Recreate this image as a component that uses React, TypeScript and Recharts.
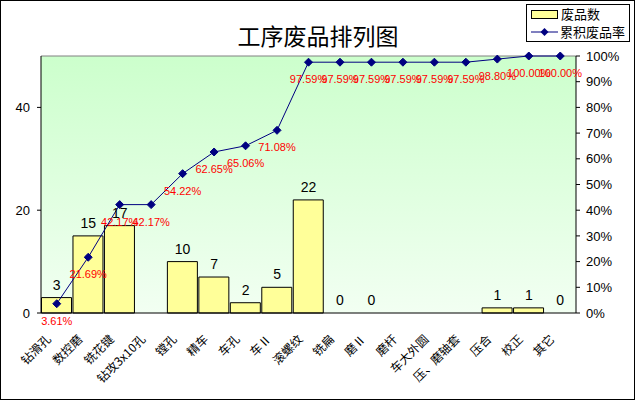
import { ComposedChart, Bar, Line, XAxis, YAxis, CartesianGrid, LabelList, Legend, ReferenceLine } from 'recharts';

const categories = ['钻滑孔', '数控磨', '铣花键', '钻攻3x10孔', '镗孔', '精车', '车孔', '车Ⅱ', '滚螺纹', '铣扁', '磨Ⅱ', '磨杆', '车大外圆', '压、磨轴套', '压合', '校正', '其它'];
const rejects = [3, 15, 17, null, 10, 7, 2, 5, 22, 0, 0, null, null, null, 1, 1, 0];
const cumulativeRate = [3.61, 21.69, 42.17, 42.17, 54.22, 62.65, 65.06, 71.08, 97.59, 97.59, 97.59, 97.59, 97.59, 97.59, 98.8, 100, 100];
const countTicks = [0, 20, 40];
const rateTicks = [0, 10, 20, 30, 40, 50, 60, 70, 80, 90, 100];

const data = categories.map((name, i) => ({ name, count: rejects[i], rate: cumulativeRate[i] }));

const cjk = '"Noto Sans CJK SC", sans-serif';
const latin = '"Liberation Sans", Arial, sans-serif';

function CategoryTick(props: any) {
  const { x, y, payload } = props;
  const ax = x - 5;
  const ay = y + 27;
  return (
    <text x={ax} y={ay} transform={`rotate(-45 ${ax} ${ay})`} textAnchor="end" fontSize={12} fontFamily={cjk} fill="#000">
      {payload.value}
    </text>
  );
}

function Diamond(props: any) {
  const { cx, cy } = props;
  if (cx == null || cy == null) return null;
  return <polygon points={`${cx},${cy - 4} ${cx + 4},${cy} ${cx},${cy + 4} ${cx - 4},${cy}`} fill="#000080" stroke="#000080" />;
}

function RateLabel(props: any) {
  const { x, y, value } = props;
  if (value == null) return null;
  return (
    <text x={x} y={y + 21} textAnchor="middle" fontSize={11} fontFamily={latin} fill="#ff0000">
      {Number(value).toFixed(2)}%
    </text>
  );
}

// count labels sit on an invisible line so that zero values still get a "0"
function CountLabel(props: any) {
  const { x, y, value } = props;
  if (value == null || y == null) return null;
  return (
    <text x={x} y={y - 8} textAnchor="middle" fontSize={14} fontFamily={latin} fill="#000">
      {value}
    </text>
  );
}

function LegendBox() {
  return (
    <div style={{ width: 102, height: 36, border: '1px solid #000', background: '#fff', fontFamily: cjk, fontSize: 13, lineHeight: '18px' }}>
      <div style={{ display: 'flex', alignItems: 'center', height: 18 }}>
        <span style={{ display: 'inline-block', width: 25, height: 7, marginLeft: 4, background: '#ffff99', border: '1px solid #000' }} />
        <span style={{ marginLeft: 3 }}>废品数</span>
      </div>
      <div style={{ display: 'flex', alignItems: 'center', height: 18 }}>
        <svg width={27} height={10} style={{ marginLeft: 4 }}>
          <line x1={0} y1={5} x2={27} y2={5} stroke="#000080" />
          <polygon points="13.5,1 17.5,5 13.5,9 9.5,5" fill="#000080" />
        </svg>
        <span style={{ marginLeft: 2 }}>累积废品率</span>
      </div>
    </div>
  );
}

export default function App() {
  return (
    <div style={{ position: 'absolute', left: 0, top: 0, width: 636, height: 401, background: '#fff' }}>
      <ComposedChart width={636} height={401} data={data} margin={{ top: 56, right: 0, bottom: 0, left: 0 }} barCategoryGap={0.5}>
        <defs>
          <linearGradient id="plotBg" x1="0" y1="0" x2="0" y2="1">
            <stop offset="0%" stopColor="#ccffcc" />
            <stop offset="100%" stopColor="#f2fff2" />
          </linearGradient>
        </defs>
        <CartesianGrid horizontal={false} vertical={false} fill="url(#plotBg)" />
        <XAxis dataKey="name" height={88} interval={0} tickSize={0} tickMargin={0} tickLine={false} tick={<CategoryTick />} stroke="#000" />
        <YAxis yAxisId="count" width={41} domain={[0, 50]} ticks={countTicks} tickSize={4} tickMargin={7} stroke="#000"
          tick={{ fontSize: 13, fontFamily: latin, fill: '#000' }} />
        <YAxis yAxisId="rate" orientation="right" width={60} domain={[0, 100]} ticks={rateTicks} tickSize={4} tickMargin={6} stroke="#000"
          tickFormatter={(v: number) => `${v}%`} tick={{ fontSize: 13, fontFamily: latin, fill: '#000' }} />
        <ReferenceLine yAxisId="count" y={50} stroke="#808080" />
        <Legend layout="vertical" align="center" verticalAlign="middle" content={<LegendBox />}
          wrapperStyle={{ position: 'absolute', left: 526, top: 4, width: 104, height: 38 }} />
        <Bar yAxisId="count" dataKey="count" name="废品数" fill="#ffff99" stroke="#000" strokeWidth={1} isAnimationActive={false} />
        <Line yAxisId="count" dataKey="count" stroke="none" dot={false} activeDot={false} legendType="none" isAnimationActive={false}>
          <LabelList dataKey="count" content={<CountLabel />} />
        </Line>
        <Line yAxisId="rate" dataKey="rate" name="累积废品率" stroke="#000080" strokeWidth={1} dot={<Diamond />} activeDot={false} isAnimationActive={false}>
          <LabelList dataKey="rate" content={<RateLabel />} />
        </Line>
      </ComposedChart>
      <div style={{ position: 'absolute', left: 0, top: 20, width: 636, textAlign: 'center', fontFamily: cjk, fontSize: 23, lineHeight: '30px', color: '#000' }}>
        工序废品排列图
      </div>
      <div style={{ position: 'absolute', left: 0, top: 0, width: 635, height: 400, boxSizing: 'border-box', border: '1px solid #000', pointerEvents: 'none' }} />
    </div>
  );
}
